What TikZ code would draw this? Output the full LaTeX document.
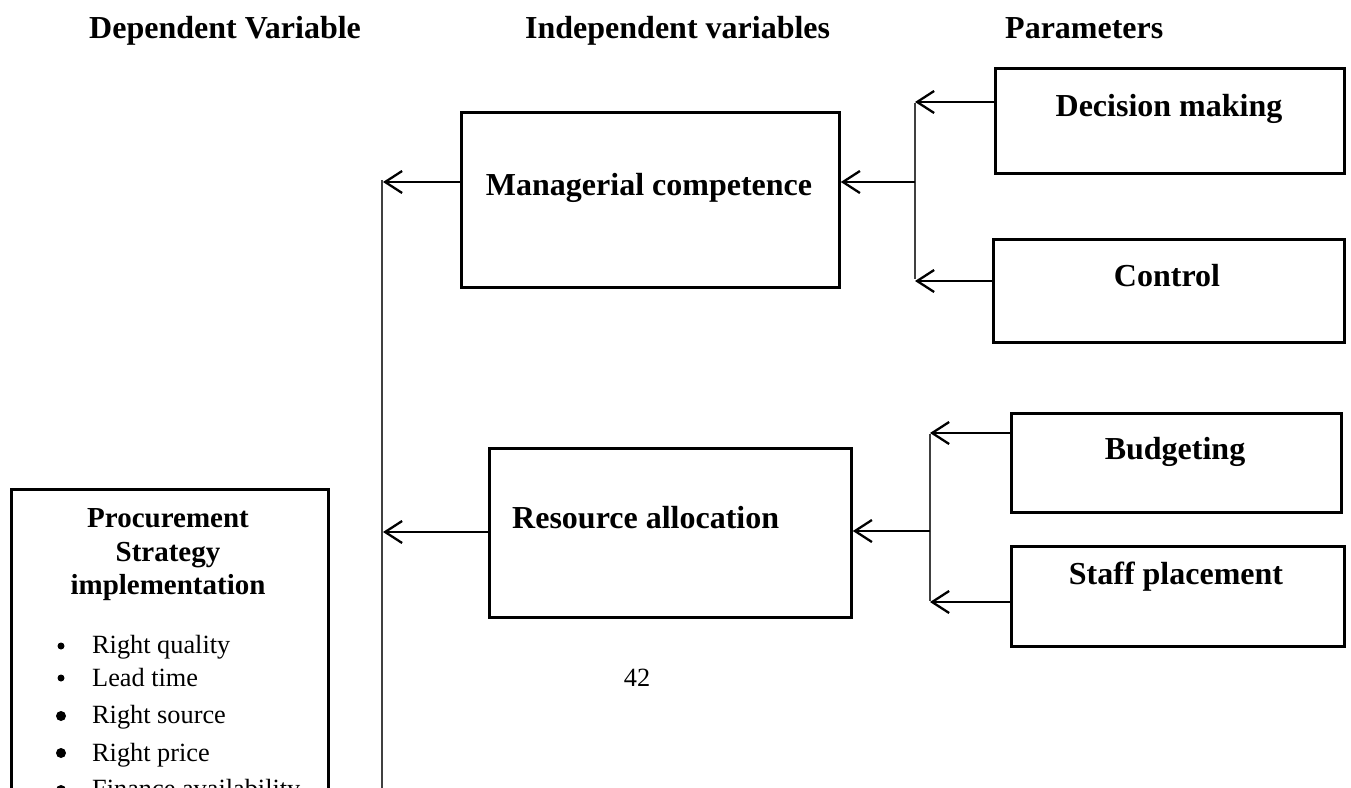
\documentclass[tikz,border=0pt]{standalone}
\usepackage{fontspec}
\setmainfont{Liberation Serif}
\usetikzlibrary{arrows.meta}
\begin{document}
\begin{tikzpicture}[x=1pt,y=-1pt,
  box/.style={draw, line width=2.8pt, inner sep=0pt, anchor=north west},
  arr/.style={line width=2.3pt, -{Straight Barb[length=17pt,width=22pt]}},
  bar/.style={line width=1.6pt, draw=black!75},
  hdr/.style={font=\fontsize{32}{38}\selectfont\bfseries, anchor=base west, inner sep=0pt},
  lbl/.style={font=\fontsize{32}{38}\selectfont\bfseries, anchor=base, inner sep=0pt},
  ptitle/.style={font=\fontsize{29}{34}\selectfont\bfseries, anchor=base, inner sep=0pt},
  item/.style={font=\fontsize{26.3}{30}\selectfont, anchor=base west, inner sep=0pt},
  dot/.style={circle, fill=black, inner sep=0pt}]
\useasboundingbox (0,0) rectangle (1351,787);
\fill[white] (0,0) rectangle (1351,787);
\clip (0,0) rectangle (1351,787);

% headers
\node[hdr] (h1) at (89,38) {Dependent Variable};
\node[hdr] (h2) at (525,38) {Independent variables};
\node[hdr] (h3) at (1005,38) {Parameters};

% boxes
\node[box, minimum width=349pt, minimum height=105pt] (dm) at (994,67) {};
\node[box, minimum width=351pt, minimum height=103pt] (ctl) at (992,238) {};
\node[box, minimum width=378pt, minimum height=175pt] (mc) at (460,111) {};
\node[box, minimum width=330pt, minimum height=99pt] (bud) at (1010,412) {};
\node[box, minimum width=333pt, minimum height=100pt] (stf) at (1010,545) {};
\node[box, minimum width=362pt, minimum height=169pt] (ra) at (488,447) {};
\node[box, minimum width=317pt, minimum height=400pt] (proc) at (10,488) {};

% box texts
\node[lbl] (tdm) at (1169,116) {Decision making};
\node[lbl] (tctl) at (1167,286) {Control};
\node[lbl] (tmc) at (649,195) {Managerial competence};
\node[lbl] (tbud) at (1175,459) {Budgeting};
\node[lbl] (tstf) at (1176,584) {Staff placement};
\node[lbl, anchor=base west] (tra) at (512,528) {Resource allocation};

\node[ptitle] (p1) at (168,527) {Procurement};
\node[ptitle] (p2) at (168,561) {Strategy};
\node[ptitle] (p3) at (168,594) {implementation};

\node[dot, minimum size=7pt] (b1) at (61,646) {};
\node[dot, minimum size=7pt] (b2) at (61,678) {};
\node[dot, minimum size=10pt] (b3) at (61,716) {};
\node[dot, minimum size=10pt] (b4) at (61,753) {};
\node[dot, minimum size=10pt] (b5) at (61,790) {};
\node[item] (i1) at (92,653) {Right quality};
\node[item] (i2) at (92,686) {Lead time};
\node[item] (i3) at (92,723) {Right source};
\node[item] (i4) at (92,761) {Right price};
\node[item] (i5) at (92,797) {Finance availability};

\node[item, anchor=base] (pg) at (637,686) {42};

% junction coordinates
\coordinate (ja) at (915,102);
\coordinate (jb) at (915,281);
\coordinate (jm) at (915,182);
\coordinate (ka) at (930,433);
\coordinate (kb) at (930,602);
\coordinate (km) at (930,531);
\coordinate (t1) at (383,182);
\coordinate (t2) at (383,532);
\coordinate (tb) at (382,800);
\coordinate (tt) at (382,180);

% connectors, upper group
\draw[arr] (dm.west |- ja) -- (ja);
\draw[arr] (ctl.west |- jb) -- (jb);
\draw[bar] ([yshift=-1pt]ja) -- ([yshift=2pt]jb);
\draw[arr] (jm) -- (mc.east |- jm);
\draw[arr] (mc.west |- t1) -- (t1);

% connectors, lower group
\draw[arr] (bud.west |- ka) -- (ka);
\draw[arr] (stf.west |- kb) -- (kb);
\draw[bar] ([yshift=-1pt]ka) -- ([yshift=1pt]kb);
\draw[arr] (km) -- (ra.east |- km);
\draw[arr] (ra.west |- t2) -- (t2);

% trunk line
\draw[bar] (tt) -- (tb);
\end{tikzpicture}
\end{document}
